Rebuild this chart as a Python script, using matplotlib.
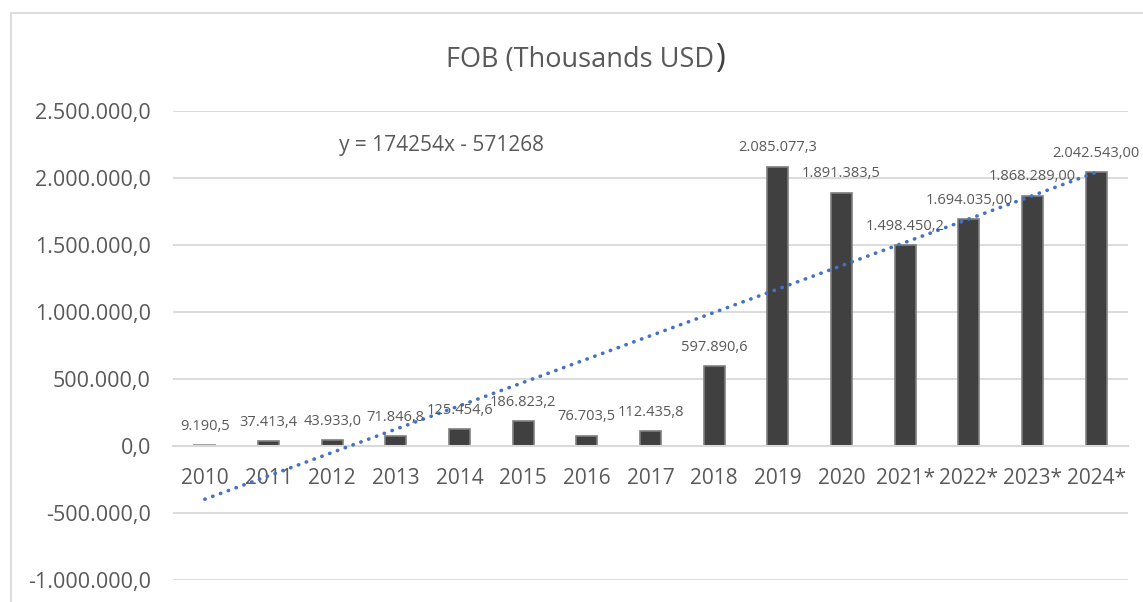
import matplotlib
matplotlib.use("Agg")
import matplotlib.pyplot as plt
from matplotlib.patches import Rectangle
import numpy as np

plt.rcParams['font.family'] = ['Open Sans', 'DejaVu Sans']

categories = ["2010", "2011", "2012", "2013", "2014", "2015", "2016", "2017",
              "2018", "2019", "2020", "2021*", "2022*", "2023*", "2024*"]
values = [9190.5, 37413.4, 43933.0, 71846.8, 125454.6, 186823.2, 76703.5,
          112435.8, 597890.6, 2085077.3, 1891383.5, 1498450.2, 1694035.0,
          1868289.0, 2042543.0]
value_labels = ["9.190,5", "37.413,4", "43.933,0", "71.846,8", "125.454,6",
                "186.823,2", "76.703,5", "112.435,8", "597.890,6", "2.085.077,3",
                "1.891.383,5", "1.498.450,2", "1.694.035,00", "1.868.289,00",
                "2.042.543,00"]
ytick_values = [-1000000, -500000, 0, 500000, 1000000, 1500000, 2000000, 2500000]
ytick_labels = ["-1.000.000,0", "-500.000,0", "0,0", "500.000,0", "1.000.000,0",
                "1.500.000,0", "2.000.000,0", "2.500.000,0"]
trend_slope = 174254
trend_intercept = -571268
title = "FOB (Thousands USD"

W, H = 1143, 602
fig = plt.figure(figsize=(W / 100, H / 100), dpi=100)

# outer chart border
fig.patches.append(Rectangle((11 / W, -0.05), 1.2, 1 - 13 / H + 0.05,
                             transform=fig.transFigure, fill=False,
                             edgecolor='#d9d9d9', linewidth=1.3))

ax = fig.add_axes([173 / W, 1 - 580 / H, (1128 - 173) / W, (580 - 111) / H])
ax.set_xlim(-0.5, len(categories) - 0.5)
ax.set_ylim(-1000000, 2500000)

x = np.arange(len(categories))
ax.set_axisbelow(True)
ax.grid(axis='y', color='#d9d9d9', linewidth=1.3)
for s in ['top', 'right', 'left']:
    ax.spines[s].set_visible(False)
ax.spines['bottom'].set_position(('data', 0))
ax.spines['bottom'].set_color('#d9d9d9')
ax.spines['bottom'].set_linewidth(1.5)

ax.bar(x, values, width=0.33, color='#404040', edgecolor='#7f7f7f',
       linewidth=1.2, zorder=2)
ax.bar([0], [values[0]], width=0.33, color='#a6a6a6', edgecolor='#a6a6a6',
       linewidth=1.2, zorder=2)

ax.set_yticks(ytick_values)
ax.set_yticklabels(ytick_labels)
ax.set_xticks(x)
ax.set_xticklabels(categories)
ax.tick_params(axis='y', length=0, pad=16, labelsize=15.5, labelcolor='#595959')
ax.tick_params(axis='x', length=0, pad=16, labelsize=15, labelcolor='#595959')

for xi, v, lab in zip(x, values, value_labels):
    ax.annotate(lab, (xi, v), xytext=(0, 13.5), textcoords='offset points',
                ha='center', va='center', fontsize=10.5, color='#595959',
                zorder=4)

xt = np.arange(1, len(categories) + 1)
yt = trend_slope * xt + trend_intercept
ax.plot(x, yt, color='#4472C4', linewidth=2.6, linestyle=(0, (0.1, 2.2)),
        dash_capstyle='round', zorder=3)

ax.text(3.72, 2085000 + 160000, "y = 174254x - 571268", fontsize=15,
        color='#595959', ha='center', va='center')

t1 = fig.text(580 / W, 1 - 60 / H, title, fontsize=19.5, color='#595959',
              ha='center', va='center')
fig.canvas.draw()
bb = t1.get_window_extent()
fig.text(bb.x1 / W + 0.0005, 1 - 59 / H, ")", fontsize=24, color='#404040',
         ha='left', va='center')

fig.savefig("out.png", dpi=100)
